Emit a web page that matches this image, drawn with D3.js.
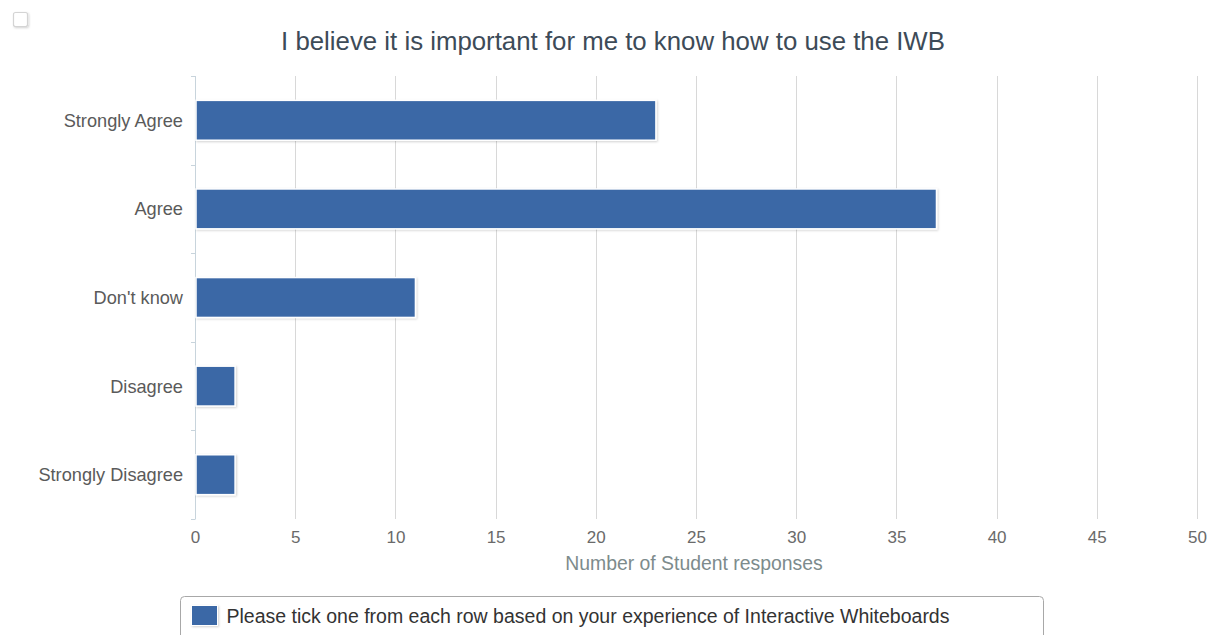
<!DOCTYPE html>
<html>
<head>
<meta charset="utf-8">
<script src="https://cdn.jsdelivr.net/npm/d3@7/dist/d3.min.js"></script>
<style>
  html, body { margin: 0; padding: 0; background: #fff; }
  svg { display: block; font-family: "Liberation Sans", Arial, sans-serif; }
</style>
</head>
<body>
<svg id="chart" width="1226" height="635"></svg>
<script>
// Survey responses
const categories = ["Strongly Agree", "Agree", "Don't know", "Disagree", "Strongly Disagree"];
const responses = [23, 37, 11, 2, 2];
const xTicks = [0, 5, 10, 15, 20, 25, 30, 35, 40, 45, 50];
const chartTitle = "I believe it is important for me to know how to use the IWB";
const xAxisTitle = "Number of Student responses";
const seriesName = "Please tick one from each row based on your experience of Interactive Whiteboards";

const svg = d3.select("#chart");
const W = 1226, H = 635;
const margin = { top: 76, right: 29, bottom: 116, left: 195 };
const plotW = W - margin.left - margin.right;
const plotH = H - margin.top - margin.bottom;

const barColor = "#3a67a6";

// drop shadow for the bars
const defs = svg.append("defs");
const shadow = defs.append("filter").attr("id", "barShadow")
  .attr("x", "-10%").attr("y", "-20%").attr("width", "130%").attr("height", "160%");
shadow.append("feDropShadow").attr("dx", 1).attr("dy", 1).attr("stdDeviation", 1.2)
  .attr("flood-color", "#000").attr("flood-opacity", 0.18);

// small checkbox icon, top left
svg.append("rect").attr("x", 13.5).attr("y", 12.5).attr("width", 14).attr("height", 14)
  .attr("rx", 2).attr("fill", "#fff").attr("stroke", "#d4d4d4").attr("stroke-width", 1.2)
  .attr("filter", "url(#barShadow)");

// title
svg.append("text").attr("x", 613).attr("y", 50).attr("text-anchor", "middle")
  .attr("font-size", 25.8).attr("fill", "#3d4b58").text(chartTitle);

const g = svg.append("g").attr("transform", `translate(${margin.left},${margin.top})`);

const x = d3.scaleLinear().domain([0, 50]).range([0, plotW]);
const y = d3.scaleBand().domain(categories).range([0, plotH]).paddingInner(0.55).paddingOuter(0.275);
const yStep = d3.scaleBand().domain(categories).range([0, plotH]);

// vertical grid lines
g.selectAll(".grid").data(xTicks.slice(1)).enter().append("line")
  .attr("x1", d => Math.round(x(d)) + 0.5).attr("x2", d => Math.round(x(d)) + 0.5)
  .attr("y1", 0).attr("y2", plotH)
  .attr("stroke", "#d8d8d8").attr("stroke-width", 1);

// category axis line with tick marks at band edges
g.append("line").attr("x1", 0.5).attr("x2", 0.5).attr("y1", 0).attr("y2", plotH)
  .attr("stroke", "#c8d4dc").attr("stroke-width", 1);
const edges = categories.map(c => yStep(c)).concat([plotH]);
g.selectAll(".ytick").data(edges).enter().append("line")
  .attr("x1", -4).attr("x2", 0.5)
  .attr("y1", d => Math.round(d) + 0.5).attr("y2", d => Math.round(d) + 0.5)
  .attr("stroke", "#c8d4dc");

// bars
g.selectAll(".bar").data(categories).enter().append("rect")
  .attr("x", x(0) + 1)
  .attr("y", d => y(d))
  .attr("width", (d, i) => x(responses[i]) - x(0) - 1)
  .attr("height", y.bandwidth())
  .attr("fill", barColor)
  .attr("stroke", "#ffffff").attr("stroke-width", 1.5)
  .attr("filter", "url(#barShadow)");

// category labels
g.selectAll(".ylab").data(categories).enter().append("text")
  .attr("x", -12).attr("y", d => y(d) + y.bandwidth() / 2 + 6.5)
  .attr("text-anchor", "end").attr("font-size", 18.2).attr("fill", "#5a5a5a")
  .text(d => d);

// value axis labels
const xAxis = d3.axisBottom(x).tickValues(xTicks).tickSize(0).tickPadding(12);
const ax = g.append("g").attr("transform", `translate(0,${plotH})`).call(xAxis);
ax.select(".domain").remove();
ax.selectAll("text").attr("font-size", 17).attr("fill", "#6a6a6a")
  .attr("font-family", "Liberation Sans, Arial, sans-serif");

// axis title
svg.append("text").attr("x", margin.left + plotW / 2 - 2).attr("y", 570)
  .attr("text-anchor", "middle").attr("font-size", 19.4).attr("fill", "#7d8b8c")
  .text(xAxisTitle);

// legend box
const legend = svg.append("g").attr("transform", "translate(180.5,596.5)");
legend.append("rect").attr("width", 863).attr("height", 46).attr("rx", 4)
  .attr("fill", "#fff").attr("stroke", "#a8a8a8").attr("stroke-width", 1);
legend.append("rect").attr("x", 11).attr("y", 9).attr("width", 26).attr("height", 20)
  .attr("fill", barColor).attr("stroke", "#fff").attr("stroke-width", 1)
  .attr("filter", "url(#barShadow)");
legend.append("text").attr("x", 46).attr("y", 26).attr("font-size", 19.5)
  .attr("fill", "#333").text(seriesName);
</script>
</body>
</html>
